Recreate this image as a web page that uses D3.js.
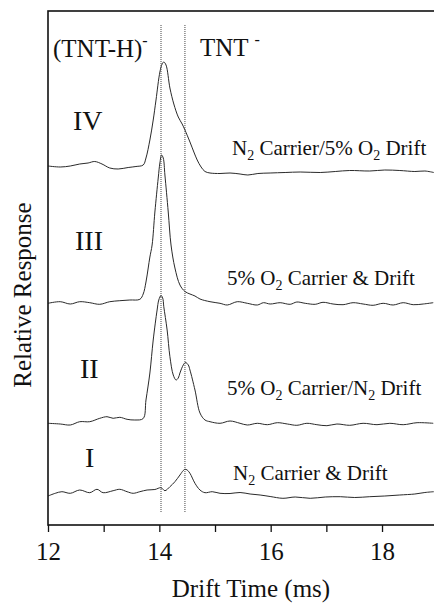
<!DOCTYPE html>
<html>
<head>
<meta charset="utf-8">
<script src="https://cdn.jsdelivr.net/npm/d3@7"></script>
<style>
  html, body { margin: 0; padding: 0; background: #fff; }
  svg { display: block; }
  text { font-family: "Liberation Serif", "Times New Roman", serif; fill: #111; }
</style>
</head>
<body>
<svg id="chart" width="434" height="605"></svg>
<script>
// ---- data (drift time in ms, stacked relative response in arbitrary units) ----
const traceIV = [
  [12.00,359],[12.22,358],[12.40,359],[12.57,361],[12.72,362],[12.84,363.5],[12.97,361],
  [13.11,357],[13.26,356],[13.44,357.5],[13.58,358.5],[13.71,360],[13.76,367],[13.83,385],
  [13.89,405],[13.94,425],[14.01,453],[14.05,461],[14.08,463],[14.12,460],[14.19,437],
  [14.26,421],[14.34,408],[14.41,401],[14.46,395],[14.55,383],[14.62,373],[14.68,365],
  [14.75,358],[14.82,353.5],[14.91,352],[15.09,351.5],[15.27,352],[15.45,351],[15.59,350],
  [15.77,351.5],[15.99,352],[16.26,352.5],[16.53,353],[16.89,352.5],[17.16,353.5],
  [17.42,354.5],[17.78,354],[18.05,355],[18.32,354.5],[18.59,353.5],[18.77,354],[18.93,352.5]
];
const traceIII = [
  [12.00,221.7],[12.22,223.3],[12.40,221],[12.57,223.3],[12.75,222.3],[12.93,220.7],[13.11,223.3],
  [13.29,224.3],[13.47,225],[13.65,225.7],[13.71,231],[13.76,243],[13.80,257],[13.83,268],
  [13.87,280],[13.92,313],[13.98,347],[14.01,362],[14.04,370],[14.07,367],[14.10,350],
  [14.16,313],[14.21,280],[14.28,257],[14.37,240],[14.46,233.5],[14.55,231],[14.64,229],
  [14.73,226],[14.91,223.3],[15.09,221.7],[15.22,220],[15.40,223.3],[15.58,221.7],[15.76,220],
  [15.87,222.3],[15.99,221],[16.17,222.3],[16.35,220.7],[16.47,223],[16.62,221.7],[16.80,220.7],
  [16.94,222.7],[17.12,221],[17.30,220.3],[17.48,222.3],[17.66,221],[17.84,219.7],[18.02,221.7],
  [18.20,220],[18.38,222.3],[18.56,220.3],[18.74,221],[18.92,222.3]
];
const traceII = [
  [12.00,101.7],[12.22,101],[12.40,100],[12.57,103.3],[12.75,103.3],[12.93,106.7],[13.06,108.3],
  [13.17,106.7],[13.29,107.7],[13.42,105.7],[13.56,105],[13.71,106.5],[13.76,125],[13.83,152],
  [13.89,185],[13.96,215],[13.99,225],[14.03,229.5],[14.06,227],[14.08,218.3],[14.14,195],
  [14.19,168.3],[14.25,150],[14.30,145],[14.34,147],[14.37,152],[14.43,160],[14.47,162.5],
  [14.52,160],[14.55,155],[14.64,135],[14.73,112],[14.82,105],[14.91,103.3],[15.09,101.7],
  [15.27,104],[15.45,101.7],[15.58,100],[15.76,101.7],[15.94,100.3],[16.12,102.3],[16.30,101],
  [16.47,99.7],[16.65,101.7],[16.83,100.3],[17.01,99.3],[17.19,101],[17.42,99.7],[17.66,101.7],
  [17.91,100.3],[18.14,101.7],[18.38,100.3],[18.63,102.3],[18.92,101.7]
];
const traceI = [
  [12.00,29],[12.13,31.7],[12.25,33.3],[12.40,31.7],[12.57,35],[12.75,32.3],[12.88,35.7],
  [12.99,32.3],[13.17,34.3],[13.29,35.7],[13.42,33.3],[13.53,31.7],[13.65,33.3],[13.78,35],
  [13.92,35.5],[14.03,37.3],[14.10,34.3],[14.19,38.3],[14.28,43.3],[14.37,50],[14.43,54.5],
  [14.46,55.7],[14.50,55],[14.55,51.7],[14.64,41.7],[14.73,35],[14.82,32.3],[14.95,33.3],
  [15.09,31.7],[15.27,31.5],[15.45,32.5],[15.63,31],[15.81,30],[15.99,28.5],[16.22,26.7],
  [16.44,28],[16.71,26.7],[16.98,28],[17.25,28.3],[17.51,27.5],[17.78,28.3],[18.05,29],
  [18.32,30],[18.59,31],[18.77,32.5],[18.93,33.3]
];
const traces = [traceIV, traceIII, traceII, traceI];
const peakLines = [14.03, 14.46];          // (TNT-H)- and TNT- drift times
const xTicks = [12, 13, 14, 15, 16, 17, 18];
const xTickLabels = ["12", "", "14", "", "16", "", "18"];
const xDomain = [12, 19];
const yDomain = [0, 514];

// ---- layout ----
const svg = d3.select("#chart");
const mLeft = 48, mTop = 11, mBottom = 525;
const x = d3.scaleLinear().domain(xDomain).range([mLeft, mLeft + 7 * 55.67]);
const y = d3.scaleLinear().domain(yDomain).range([mBottom, mTop]);

// traces
const line = d3.line().x(d => x(d[0])).y(d => y(d[1])).curve(d3.curveCatmullRom.alpha(0.5));
svg.append("g").selectAll("path").data(traces).join("path")
  .attr("d", line).attr("fill", "none").attr("stroke", "#2a2a2a").attr("stroke-width", 1);

// dotted reference lines
svg.append("g").selectAll("line").data(peakLines).join("line")
  .attr("x1", d => x(d)).attr("x2", d => x(d))
  .attr("y1", 25).attr("y2", 512)
  .attr("stroke", "#444").attr("stroke-width", 1).attr("stroke-dasharray", "1,1");

// frame
svg.append("rect")
  .attr("x", x(xDomain[0])).attr("y", mTop)
  .attr("width", x(xDomain[1]) - x(xDomain[0])).attr("height", mBottom - mTop)
  .attr("fill", "none").attr("stroke", "#111").attr("stroke-width", 1.6);

// x axis
const axis = d3.axisBottom(x).tickValues(xTicks)
  .tickFormat((d, i) => xTickLabels[i]).tickSize(7).tickSizeOuter(0).tickPadding(10);
const gx = svg.append("g").attr("transform", `translate(0,${mBottom})`).call(axis)
  .attr("font-family", null);
gx.select(".domain").remove();
gx.selectAll(".tick line").attr("stroke", "#111").attr("stroke-width", 1.3);
gx.selectAll(".tick text").attr("font-size", 25).attr("fill", "#111")
  .style("font-family", '"Liberation Serif", "Times New Roman", serif')
  .attr("dy", "0.71em");

// axis titles
svg.append("text").attr("x", 251).attr("y", 597).attr("text-anchor", "middle")
  .attr("font-size", 25).text("Drift Time (ms)");
svg.append("text").attr("transform", "translate(31,295) rotate(-90)")
  .attr("text-anchor", "middle").attr("font-size", 25).text("Relative Response");

// ion labels
const t1 = svg.append("text").attr("x", 53).attr("y", 57).attr("font-size", 25);
t1.append("tspan").text("(TNT-H)");
t1.append("tspan").attr("dy", -11).attr("font-size", 16).text("-");
const t2 = svg.append("text").attr("x", 200).attr("y", 56).attr("font-size", 25);
t2.append("tspan").text("TNT ");
t2.append("tspan").attr("dy", -11).attr("font-size", 16).text("-");

// roman numerals
const romans = [["IV", 73, 130], ["III", 75, 250], ["II", 80, 378], ["I", 85, 467]];
svg.append("g").selectAll("text").data(romans).join("text")
  .attr("x", d => d[1]).attr("y", d => d[2]).attr("font-size", 28).text(d => d[0]);

// condition annotations: arrays of [text, isSubscript]
const notes = [
  { x: 232, y: 155, parts: [["N", 0], ["2", 1], [" Carrier/5% O", 0], ["2", 1], [" Drift", 0]] },
  { x: 227, y: 285, parts: [["5% O", 0], ["2", 1], [" Carrier & Drift", 0]] },
  { x: 227, y: 395, parts: [["5% O", 0], ["2", 1], [" Carrier/N", 0], ["2", 1], [" Drift", 0]] },
  { x: 233, y: 480, parts: [["N", 0], ["2", 1], [" Carrier & Drift", 0]] }
];
notes.forEach(n => {
  const t = svg.append("text").attr("x", n.x).attr("y", n.y).attr("font-size", 21)
    .attr("xml:space", "preserve").style("white-space", "pre");
  let prevSub = 0;
  n.parts.forEach(p => {
    const ts = t.append("tspan").text(p[0]);
    const dy = (p[1] ? 5 : 0) - (prevSub ? 5 : 0);
    if (dy) ts.attr("dy", dy);
    if (p[1]) ts.attr("font-size", 14);
    prevSub = p[1];
  });
});
</script>
</body>
</html>
